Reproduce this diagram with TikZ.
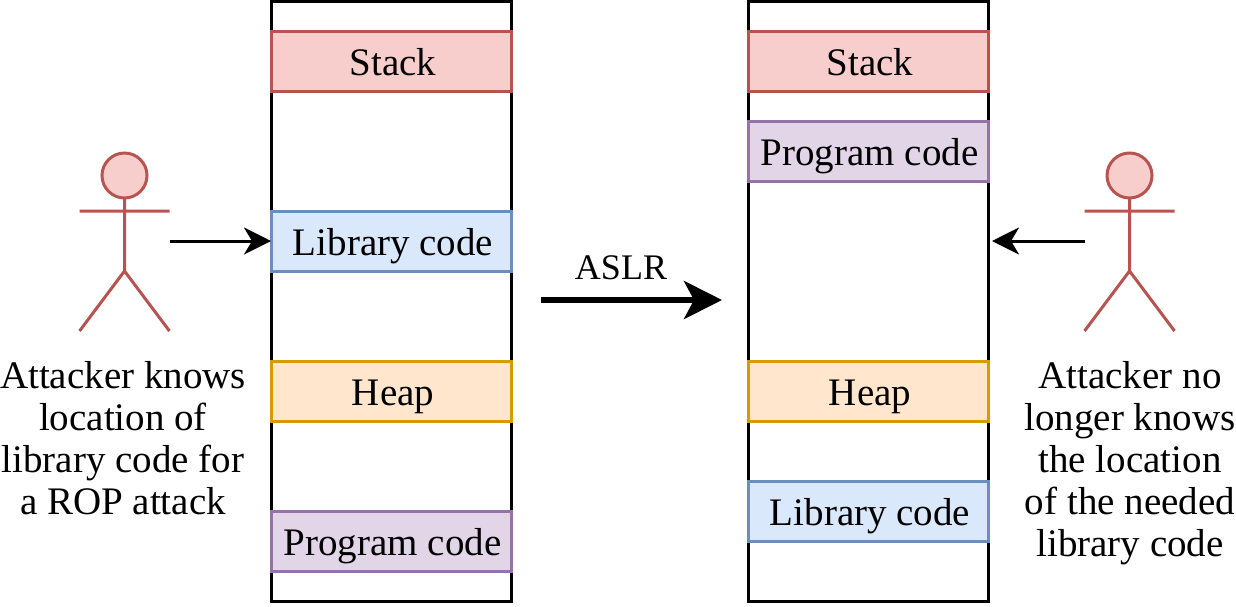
\documentclass[tikz,border=0pt]{standalone}
\usepackage{fontspec}
\setmainfont{Liberation Serif}
\usetikzlibrary{arrows.meta}
\definecolor{rf}{HTML}{F8CECC}\definecolor{rd}{HTML}{B85450}
\definecolor{bf}{HTML}{DAE8FC}\definecolor{bd}{HTML}{6C8EBF}
\definecolor{of}{HTML}{FFE6CC}\definecolor{od}{HTML}{D79B00}
\definecolor{pf}{HTML}{E1D5E7}\definecolor{pd}{HTML}{9673A6}
\newcommand{\bigtxt}{\fontsize{39}{39}\selectfont}
\tikzset{x=1pt,y=-1pt,
 mem/.style={draw=black,line width=3pt,fill=white,minimum width=240pt,minimum height=600pt,inner sep=0,outer sep=0,anchor=north west},
 seg/.style={line width=3pt,minimum width=240pt,minimum height=60pt,inner sep=0,outer sep=0,anchor=north west,font=\bigtxt,text height=28pt,text depth=0pt,execute at begin node={\hspace*{3pt}}},
 red/.style={seg,draw=rd,fill=rf},blu/.style={seg,draw=bd,fill=bf},
 ora/.style={seg,draw=od,fill=of},pur/.style={seg,draw=pd,fill=pf},
 prog/.style={execute at begin node={\hspace*{-1pt}}},
 lab/.style={align=center,font=\fontsize{39}{42}\selectfont,inner sep=0},
 act/.style={draw=rd,line width=3pt},
 arr/.style={draw=black,line width=3pt,-{Stealth[length=27pt,width=27pt,inset=8pt]}}}
\begin{document}
\begin{tikzpicture}
\useasboundingbox (0,0) rectangle (1236,606);
\node[mem] (m1) at (271.5,1) {};
\node[mem] (m2) at (748.5,1) {};
\node[red] (s1) at (271.5,31) {Stack};
\node[blu] (l1) at (271.5,211) {Library code};
\node[ora] (h1) at (271.5,361) {Heap};
\node[pur,prog] (p1) at (271.5,511) {Program code};
\node[red] (s2) at (748.5,31) {Stack};
\node[pur,prog] (p2) at (748.5,121) {Program code};
\node[ora] (h2) at (748.5,361) {Heap};
\node[blu] (l2) at (748.5,481) {Library code};
\draw[act,fill=rf] (124.5,175.5) circle (22.5);
\draw[act] (124.5,198) -- (124.5,271) (79.5,211) -- (169.5,211) (79.5,331) -- (124.5,271) -- (169.5,331);
\draw[act,fill=rf] (1129.5,175.5) circle (22.5);
\draw[act] (1129.5,198) -- (1129.5,271) (1084.5,211) -- (1174.5,211) (1084.5,331) -- (1129.5,271) -- (1174.5,331);
\coordinate (a1) at (169.5,241);
\coordinate (a2) at (1084.5,241);
\coordinate (a3) at (541,300);
\coordinate (a4) at (722,300);
\coordinate (a5) at (992,241);
\draw[arr,shorten >=0.5pt] (a1) -- (l1.west);
\draw[arr] (a2) -- (a5);
\draw[draw=black,line width=6pt,-{Stealth[length=38pt,width=38pt,inset=10pt]}] (a3) -- (a4);
\node[font=\fontsize{36}{36}\selectfont,inner sep=0] (aslr) at (621,268) {ASLR};
\node[lab] (t1) at (123,438) {Attacker knows\\location of\\library code for\\a ROP attack};
\node[lab] (t2) at (1130,463) {Attacker no\\longer knows\\the location\\of the needed\\library code};
\end{tikzpicture}
\end{document}
